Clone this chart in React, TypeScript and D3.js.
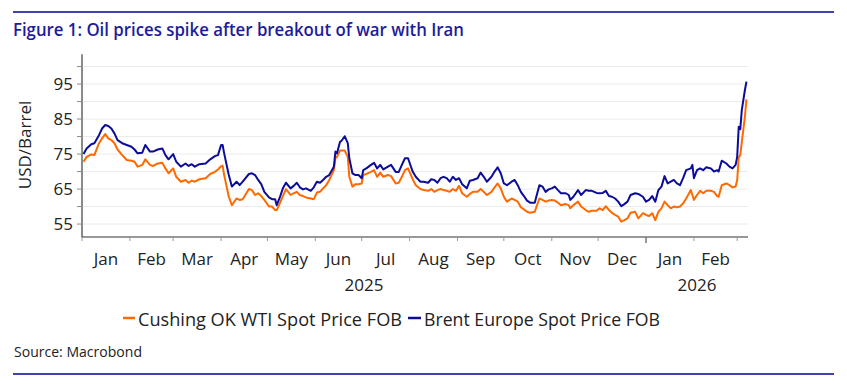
import React from "react";
import * as d3 from "d3";

// Daily spot prices (USD/barrel)
const dates = [
  "2025-01-02","2025-01-04","2025-01-07","2025-01-09","2025-01-12","2025-01-14","2025-01-16","2025-01-18","2025-01-20","2025-01-22","2025-01-24","2025-01-27","2025-01-30",
  "2025-02-02","2025-02-04","2025-02-06","2025-02-09","2025-02-11","2025-02-14","2025-02-16","2025-02-19","2025-02-22","2025-02-24","2025-02-26",
  "2025-03-01","2025-03-03","2025-03-06","2025-03-09","2025-03-11","2025-03-13","2025-03-15","2025-03-18","2025-03-22","2025-03-25","2025-03-28","2025-03-30",
  "2025-04-01","2025-04-02","2025-04-03","2025-04-06","2025-04-08","2025-04-11","2025-04-13","2025-04-15","2025-04-19","2025-04-21","2025-04-23","2025-04-25","2025-04-27","2025-04-29",
  "2025-05-02","2025-05-04","2025-05-06","2025-05-07","2025-05-09","2025-05-11","2025-05-13","2025-05-16","2025-05-18","2025-05-20","2025-05-22","2025-05-24","2025-05-26","2025-05-29","2025-05-31",
  "2025-06-02","2025-06-04","2025-06-06","2025-06-08","2025-06-10","2025-06-13","2025-06-14","2025-06-15","2025-06-17","2025-06-18","2025-06-20","2025-06-22","2025-06-23","2025-06-25","2025-06-27","2025-06-29",
  "2025-07-01","2025-07-02","2025-07-04","2025-07-07","2025-07-09","2025-07-11","2025-07-13","2025-07-15","2025-07-18","2025-07-20","2025-07-23","2025-07-25","2025-07-27","2025-07-29","2025-07-31",
  "2025-08-03","2025-08-05","2025-08-08","2025-08-10","2025-08-13","2025-08-15","2025-08-17","2025-08-19","2025-08-21","2025-08-23","2025-08-25","2025-08-27","2025-08-29","2025-08-31",
  "2025-09-02","2025-09-04","2025-09-07","2025-09-09","2025-09-11","2025-09-14","2025-09-16","2025-09-18","2025-09-20","2025-09-23","2025-09-25","2025-09-27","2025-09-29",
  "2025-10-01","2025-10-03","2025-10-06","2025-10-08","2025-10-10","2025-10-12","2025-10-14","2025-10-16","2025-10-18","2025-10-21","2025-10-22","2025-10-24","2025-10-26","2025-10-28","2025-10-30",
  "2025-11-01","2025-11-03","2025-11-05","2025-11-07","2025-11-10","2025-11-12","2025-11-13","2025-11-15","2025-11-18","2025-11-20","2025-11-23","2025-11-25","2025-11-27","2025-11-30",
  "2025-12-02","2025-12-04","2025-12-06","2025-12-08","2025-12-10","2025-12-12","2025-12-14","2025-12-16","2025-12-18","2025-12-20","2025-12-22","2025-12-25","2025-12-27","2025-12-30",
  "2026-01-01","2026-01-03","2026-01-05","2026-01-07","2026-01-09","2026-01-11","2026-01-13","2026-01-15","2026-01-17","2026-01-19","2026-01-21","2026-01-23","2026-01-25","2026-01-27","2026-01-30","2026-01-31",
  "2026-02-01","2026-02-03","2026-02-05","2026-02-07","2026-02-09","2026-02-12","2026-02-14","2026-02-16","2026-02-17","2026-02-19","2026-02-22","2026-02-24","2026-02-26","2026-02-28",
  "2026-03-01","2026-03-02","2026-03-03","2026-03-04","2026-03-06","2026-03-07",
];

const wti = [
  72.8,74.2,74.9,74.7,78.1,79.5,80.7,79.5,79.0,78.1,76.3,74.7,73.3,
  73.1,72.8,71.4,71.9,73.5,71.9,71.6,72.3,72.5,70.9,69.5,
  70.9,68.5,67.1,67.6,66.8,67.4,67.1,67.8,68.1,69.3,69.9,70.6,
  71.5,71.7,69.0,62.8,60.4,62.3,61.9,62.1,65.0,64.7,63.3,63.8,63.0,61.9,
  60.0,60.0,59.0,59.0,60.9,63.0,65.0,63.3,63.8,64.2,63.3,63.0,62.6,62.3,62.1,
  64.0,64.2,65.2,66.1,67.6,70.4,73.8,74.2,76.0,76.0,76.0,74.2,68.5,65.7,66.4,66.4,
  66.6,69.0,69.3,69.9,70.4,68.5,69.7,68.5,69.0,68.7,66.6,66.8,68.5,70.4,70.9,
  67.8,66.1,65.0,64.7,64.5,65.0,64.2,64.7,65.0,64.7,64.5,64.2,65.0,64.5,
  65.9,63.8,62.8,63.6,64.2,64.2,65.0,64.2,63.3,64.2,65.5,66.6,65.2,
  62.8,61.4,62.3,61.9,61.4,59.8,59.2,58.5,58.2,58.5,59.8,62.3,61.9,61.4,61.7,
  61.9,61.7,61.1,60.4,60.7,60.4,59.5,60.4,61.4,60.0,59.0,58.5,58.8,58.8,
  59.5,59.0,60.1,59.0,58.2,57.6,57.1,55.7,56.1,56.6,58.2,58.5,56.6,58.1,
  57.6,57.3,58.1,56.1,58.5,59.5,61.4,60.4,59.5,60.0,59.8,60.0,60.9,62.3,64.7,63.3,
  61.9,63.3,64.5,63.8,64.5,64.5,64.2,63.0,62.8,66.1,66.6,66.1,65.5,65.7,
  67.6,74.0,74.7,78.5,85.7,90.6,
];

const brent = [
  75.0,76.6,77.8,78.1,80.4,82.3,83.3,83.0,82.3,80.9,79.0,78.1,77.6,
  77.1,76.3,75.2,75.4,77.6,75.7,75.7,76.3,76.6,74.7,73.5,
  75.0,72.8,71.4,72.3,71.6,72.1,71.4,72.1,72.3,73.5,74.4,74.7,
  77.6,77.6,75.2,69.0,65.7,67.1,66.1,67.1,69.3,69.5,69.0,67.6,66.4,64.2,
  62.6,62.1,62.1,60.4,62.6,65.2,66.8,65.2,65.9,66.8,65.5,64.9,65.2,64.5,65.5,
  67.1,66.8,67.6,68.5,69.0,71.4,75.7,75.2,78.5,78.8,80.1,78.1,73.8,69.5,69.0,69.0,
  68.1,70.4,70.9,71.9,72.5,70.9,71.9,70.6,71.4,71.9,69.9,69.9,71.9,73.8,73.8,
  70.0,68.5,67.1,67.1,66.8,67.8,67.6,66.8,68.1,68.5,68.1,67.1,68.5,67.6,
  68.1,66.4,65.2,67.4,67.6,68.1,69.7,68.5,67.1,68.5,70.0,71.2,69.5,
  66.6,66.1,67.1,67.6,66.1,64.2,63.0,61.7,61.1,61.1,62.8,66.1,65.7,64.2,64.9,
  65.2,65.7,64.7,63.8,63.8,63.3,61.9,62.8,64.7,63.3,64.7,64.5,64.5,63.9,
  63.8,63.9,64.5,63.0,62.8,62.3,61.4,60.1,60.7,61.4,63.3,63.8,63.6,62.8,
  61.4,61.9,63.0,61.4,64.7,65.7,68.7,66.6,67.1,67.6,66.6,66.1,68.1,70.4,70.9,71.9,
  68.1,70.4,70.9,70.4,71.2,70.9,70.0,70.4,70.0,73.1,72.3,71.4,70.9,71.9,
  74.2,82.8,82.1,87.6,93.3,95.7,
];

const monthLabels = ["Jan","Feb","Mar","Apr","May","Jun","Jul","Aug","Sep","Oct","Nov","Dec","Jan","Feb"];
const yearLabels = ["2025", "2026"];
const yTicks = [55, 60, 65, 70, 75, 80, 85, 90, 95, 100];
const yLabels = [55, 65, 75, 85, 95];

const FONT = "'Open Sans', 'Noto Sans', sans-serif";
const ORANGE = "#ff6a00";
const NAVY = "#0c0c9a";

interface Point {
  date: Date;
  wti: number;
  brent: number;
}

export default function App() {
  const parse = d3.utcParse("%Y-%m-%d");
  const points: Point[] = dates.map((d, i) => ({ date: parse(d)!, wti: wti[i], brent: brent[i] }));

  const start = new Date(Date.UTC(2025, 0, 1));
  const end = new Date(Date.UTC(2026, 2, 8));
  const x = d3.scaleUtc().domain([start, end]).range([82, 748]);
  const y = d3.scaleLinear().domain([51.3, 103.5]).range([237, 54.3]);

  const [x0, x1] = x.range();
  const [yBottom, yTop] = y.range();

  const wtiLine = d3.line<Point>().x(d => x(d.date)).y(d => y(d.wti));
  const brentLine = d3.line<Point>().x(d => x(d.date)).y(d => y(d.brent));

  const monthStarts = d3.utcMonth.range(start, end);
  const yearStarts = [start, new Date(Date.UTC(2026, 0, 1))];

  return (
    <div style={{ position: "absolute", left: 0, top: 0 }}>
      <svg width={847} height={391} style={{ display: "block", fontFamily: FONT }}>
        <rect width={847} height={391} fill="#fff" />

        {/* top rule + title */}
        <line x1={13} x2={834} y1={12} y2={12} stroke="#0000a0" strokeWidth={1.3} />
        <text x={13} y={35.5} fontSize={17.5} fontWeight={600} fill="#1c1c9c"
          textLength={451} lengthAdjust="spacingAndGlyphs">
          Figure 1: Oil prices spike after breakout of war with Iran
        </text>

        {/* grid */}
        {yTicks.map(v => (
          <line key={`g${v}`} x1={x0} x2={x1} y1={y(v)} y2={y(v)} stroke="#ececec" strokeWidth={1} />
        ))}

        {/* y axis */}
        <line x1={x0} x2={x0} y1={yTop} y2={yBottom} stroke="#8a8a8a" strokeWidth={2} />
        {yTicks.map(v => (
          <line key={`t${v}`} x1={x0 - 5} x2={x0} y1={y(v)} y2={y(v)} stroke="#8a8a8a" strokeWidth={1} />
        ))}
        {yLabels.map(v => (
          <text key={`l${v}`} x={73} y={y(v)} dy="0.36em" textAnchor="end" fontSize={17} fill="#222">
            {v}
          </text>
        ))}
        <text transform="translate(31,145) rotate(-90)" textAnchor="middle" fontSize={17} fill="#222">
          USD/Barrel
        </text>

        {/* x axis */}
        <line x1={x0} x2={x1} y1={yBottom} y2={yBottom} stroke="#333" strokeWidth={1.2} />
        {monthStarts.map((m, i) => {
          const isYear = m.getUTCMonth() === 0 && i > 0;
          return (
            <line key={`m${i}`} x1={x(m)} x2={x(m)} y1={yBottom} y2={yBottom + (isYear ? 6 : 4)}
              stroke={isYear ? "#777" : "#999"} strokeWidth={isYear ? 1.5 : 1} />
          );
        })}
        {monthLabels.map((lab, i) => (
          <text key={`ml${i}`} x={(x(monthStarts[i]) + x(monthStarts[i + 1])) / 2} y={265}
            textAnchor="middle" fontSize={17} fill="#222">
            {lab}
          </text>
        ))}
        {yearLabels.map((lab, i) => {
          const a = x(yearStarts[i]);
          const b = i + 1 < yearStarts.length ? x(yearStarts[i + 1]) : x1;
          return (
            <text key={`yl${i}`} x={(a + b) / 2} y={291} textAnchor="middle" fontSize={17} fill="#222">
              {lab}
            </text>
          );
        })}

        {/* series */}
        <path d={wtiLine(points) ?? ""} fill="none" stroke={ORANGE} strokeWidth={2} strokeLinejoin="round" />
        <path d={brentLine(points) ?? ""} fill="none" stroke={NAVY} strokeWidth={2} strokeLinejoin="round" />

        {/* legend */}
        <line x1={123} x2={135} y1={318} y2={318} stroke={ORANGE} strokeWidth={2.5} />
        <text x={138} y={326} fontSize={18} fill="#222" textLength={264} lengthAdjust="spacingAndGlyphs">
          Cushing OK WTI Spot Price FOB
        </text>
        <line x1={408} x2={421} y1={318} y2={318} stroke={NAVY} strokeWidth={2.5} />
        <text x={424} y={326} fontSize={18} fill="#222" textLength={236} lengthAdjust="spacingAndGlyphs">
          Brent Europe Spot Price FOB
        </text>

        {/* source + bottom rule */}
        <text x={14} y={357} fontSize={15} fill="#222" textLength={128} lengthAdjust="spacingAndGlyphs">
          Source: Macrobond
        </text>
        <line x1={13} x2={834} y1={374} y2={374} stroke="#0000a0" strokeWidth={1.3} />
      </svg>
    </div>
  );
}
